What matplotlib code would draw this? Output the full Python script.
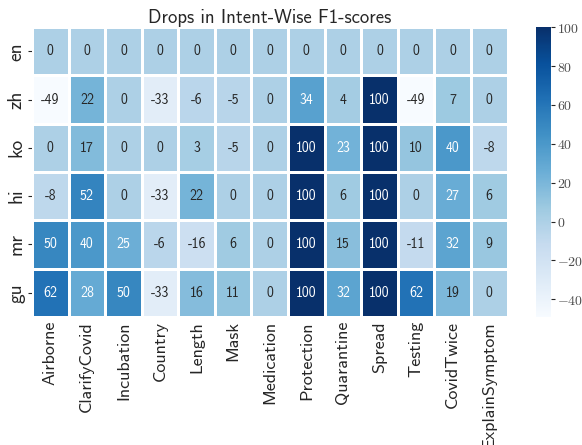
import numpy as np
import pandas as pd
import matplotlib
matplotlib.use("Agg")
import matplotlib.pyplot as plt
import matplotlib.ticker as mticker
import seaborn as sns

langs = ["en", "zh", "ko", "hi", "mr", "gu"]
intents = ["Airborne", "ClarifyCovid", "Incubation", "Country", "Length", "Mask",
           "Medication", "Protection", "Quarantine", "Spread", "Testing",
           "CovidTwice", "ExplainSymptom"]

en = [0, 0, 0, 0, 0, 0, 0, 0, 0, 0, 0, 0, 0]
zh = [-49, 22, 0, -33, -6, -5, 0, 34, 4, 100, -49, 7, 0]
ko = [0, 17, 0, 0, 3, -5, 0, 100, 23, 100, 10, 40, -8]
hi = [-8, 52, 0, -33, 22, 0, 0, 100, 6, 100, 0, 27, 6]
mr = [50, 40, 25, -6, -16, 6, 0, 100, 15, 100, -11, 32, 9]
gu = [62, 28, 50, -33, 16, 11, 0, 100, 32, 100, 62, 19, 0]

df = pd.DataFrame([en, zh, ko, hi, mr, gu], index=langs, columns=intents)

sns.set_style("white")
plt.rcParams["font.family"] = ["cmss10", "DejaVu Sans"]
plt.rcParams["axes.unicode_minus"] = False
plt.rcParams["mathtext.fontset"] = "cm"

fig = plt.figure(figsize=(5.82, 4.45), dpi=100)
ax = fig.add_axes([0.055, 0.288, 0.817, 0.651])
cax = fig.add_axes([0.921, 0.288, 0.026, 0.651])

sns.heatmap(df, ax=ax, cbar_ax=cax, cmap="Blues", annot=True, fmt="d",
            linewidths=0.8, linecolor="white", annot_kws={"size": 10})

ax.set_title("Drops in Intent-Wise F1-scores", fontsize=13.5, pad=3)
ax.tick_params(axis="x", labelsize=13, rotation=90, length=0, pad=3)
ax.tick_params(axis="y", labelsize=14, rotation=90, length=3, width=0.8,
               left=True, pad=2)
for lab in ax.get_yticklabels():
    lab.set_va("center")

cax.yaxis.set_major_locator(mticker.MultipleLocator(20))
cax.yaxis.set_major_formatter(
    mticker.FuncFormatter(lambda v, p: r"$\mathrm{%d}$" % v))
cax.tick_params(labelsize=10, length=3, width=0.8, right=True, pad=1,
                labelcolor="0.3")
for s in cax.spines.values():
    s.set_visible(False)

fig.savefig("out.png", dpi=100)
